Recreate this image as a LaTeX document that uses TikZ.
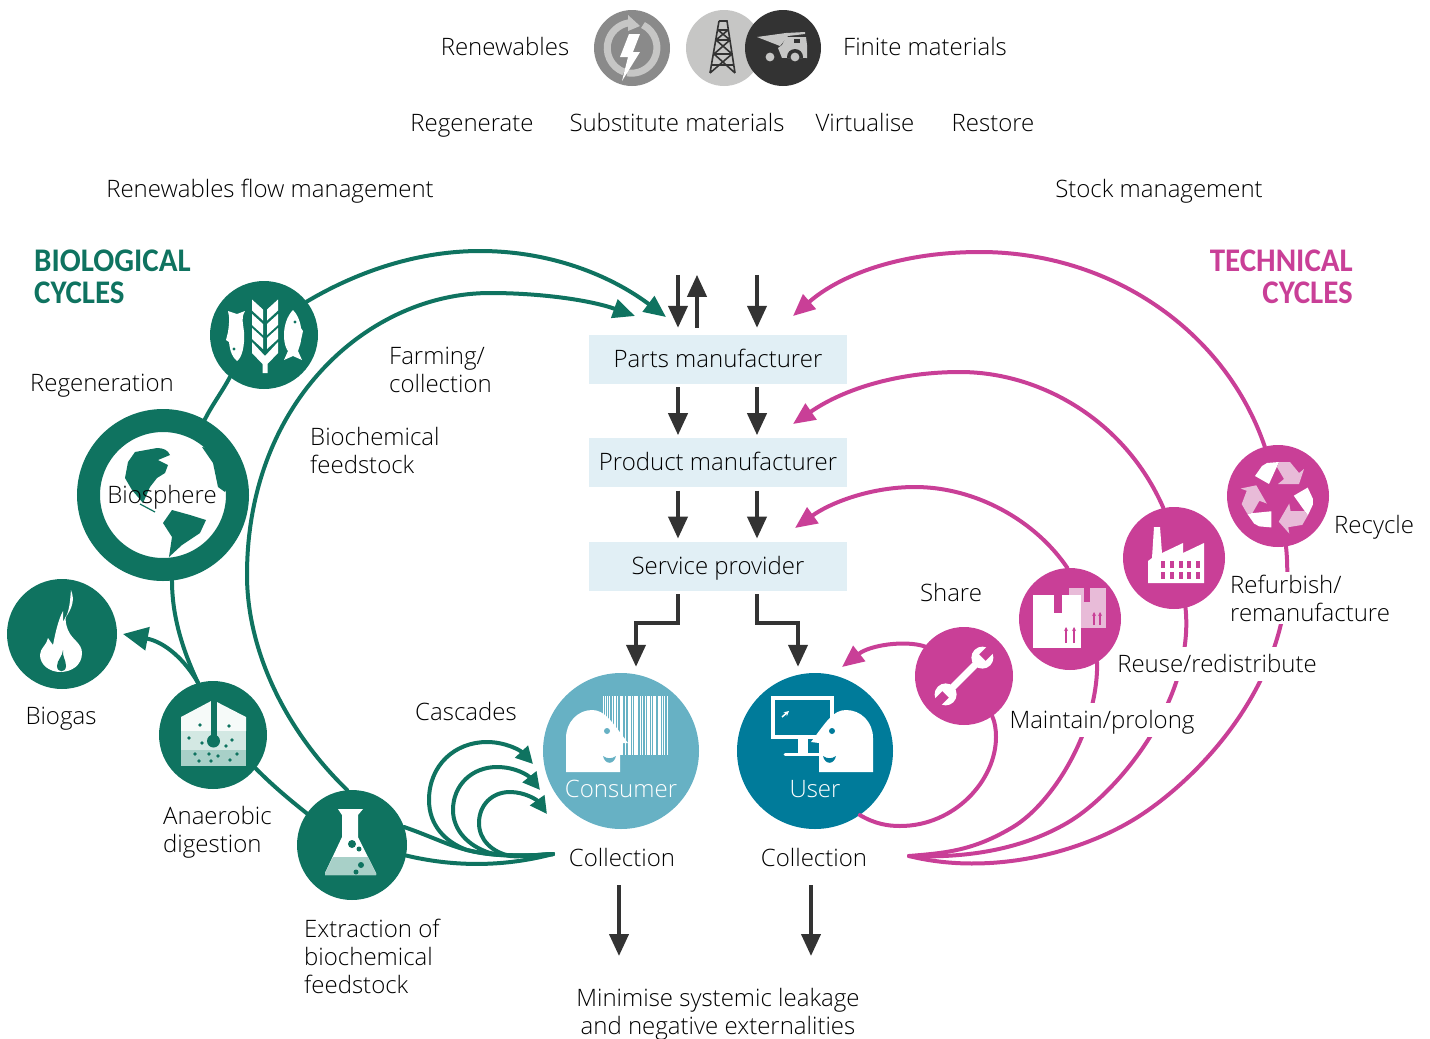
\documentclass[tikz,border=0pt]{standalone}
\usepackage{fontspec}
\setmainfont{Open Sans Light}
\newfontfamily\headfont[FakeStretch=0.94]{Carlito}
\usetikzlibrary{arrows.meta,positioning,calc}
\definecolor{bioteal}{HTML}{0F7360}
\definecolor{techpink}{HTML}{C93F97}
\definecolor{darkline}{HTML}{333333}
\definecolor{boxblue}{HTML}{E1EFF5}
\definecolor{userblue}{HTML}{007B9A}
\definecolor{buyerblue}{HTML}{67B1C4}
\definecolor{palegrey}{HTML}{C6C6C5}
\definecolor{midgrey}{HTML}{8A8A8A}
\definecolor{paleteal}{HTML}{A8D0C8}
\definecolor{palepink}{HTML}{E8BBD8}

\begin{document}
\begin{tikzpicture}[
  x=1pt, y=-1pt,
  txt/.style={font=\fontsize{24}{28}\selectfont, text=black, inner sep=0pt, align=left},
  lab/.style={txt, text height=24pt, text depth=8pt},
  head/.style={font=\headfont\bfseries\fontsize{33}{32}\selectfont, inner sep=0pt},
  stage/.style={lab, fill=boxblue, minimum width=258pt, minimum height=49pt, align=center},
  disc/.style={circle, inner sep=0pt, minimum size=#1},
  bio/.style={disc=#1, fill=bioteal},
  tech/.style={disc=#1, fill=techpink},
  cutlab/.style={lab, fill=white, inner sep=1pt},
  flow/.style={->, draw=darkline, line width=4pt},
  bioline/.style={draw=bioteal, line width=4pt, line cap=round},
  techline/.style={draw=techpink, line width=4pt, line cap=round},
  >={Stealth[length=22pt, width=19pt, inset=0pt]}
]
  \useasboundingbox (0,0) rectangle (1430,1039);

  % Nodes
  \node[disc=76pt, fill=midgrey] (renew) at (632,48) {};
  \node[disc=76pt, fill=palegrey] (oil) at (724,48) {};
  \node[disc=76pt, fill=darkline] (truck) at (783,48) {};

  \node[stage] (parts) at (718,359.5) {Parts manufacturer};
  \node[stage, below=54pt of parts] (product) {Product manufacturer};
  \node[stage, below=54pt of product] (service) {Service provider};

  \node[bio=108pt] (food) at (264,335) {};
  \node[disc=149pt, draw=bioteal, line width=23pt, fill=white] (globe) at (163,495) {};
  \node[bio=110pt] (biogas) at (62,634) {};
  \node[bio=108pt] (digest) at (213,735) {};
  \node[bio=110pt] (flask) at (352,845) {};
  \node[disc=156pt, fill=buyerblue] (consumer) at (621,751) {};
  \node[disc=156pt, fill=userblue] (user) at (815,751) {};

  \node[tech=102pt] (recycle) at (1278,496) {};
  \node[tech=102pt] (factory) at (1174,558) {};
  \node[tech=102pt] (parcel) at (1070,619) {};
  \node[tech=98pt] (wrench) at (964,676) {};

  % Free ends of the connectors
  \coordinate (bioOuterEnd) at (666,317);
  \coordinate (bioInnerEnd) at (635,316);
  \coordinate (gasEnd) at (123,634);
  \coordinate (bioCollect) at (553,854);
  \coordinate (techCollect) at (909,856);
  \coordinate (recycleEnd) at (793,316);
  \coordinate (factoryEnd) at (793,424);
  \coordinate (parcelEnd) at (795,528);
  \coordinate (wrenchEnd) at (842,667);
  \coordinate (leakA) at (619,885);
  \coordinate (leakB) at (811,885);
  \coordinate (leakAEnd) at (619,956);
  \coordinate (leakBEnd) at (811,956);
  \coordinate (casA) at (533,764);
  \coordinate (casB) at (540,790);
  \coordinate (casC) at (547,814);

  % Arrows, centre column
  \draw[flow] ($(parts.north)+(-40,-60)$) -- ($(parts.north)+(-40,-7)$);
  \draw[flow] ($(parts.north)+(-21,-7)$) -- ($(parts.north)+(-21,-60)$);
  \draw[flow] ($(parts.north)+(39,-60)$) -- ($(parts.north)+(39,-7)$);
  \draw[flow] ($(parts.south)+(-40,3)$) -- ($(product.north)+(-40,-3)$);
  \draw[flow] ($(parts.south)+(39,3)$) -- ($(product.north)+(39,-3)$);
  \draw[flow] ($(product.south)+(-40,3)$) -- ($(service.north)+(-40,-3)$);
  \draw[flow] ($(product.south)+(39,3)$) -- ($(service.north)+(39,-3)$);
  \draw[flow] ($(service.south)+(-40,3)$) |- ($(consumer.north)+(15,-50)$) -- ($(consumer.north)+(15,-6)$);
  \draw[flow] ($(service.south)+(39,3)$) |- ($(user.north)+(-17,-50)$) -- ($(user.north)+(-17,-6)$);
  \draw[flow] (leakA) -- (leakAEnd);
  \draw[flow] (leakB) -- (leakBEnd);

  % Biological side
  \draw[bioline] (food.231) .. controls (222,392) and (212,405) .. (globe.61);
  \draw[bioline] (globe.276) .. controls (172,620) and (185,655) .. (digest.106);
  \draw[bioline, >={Stealth[length=25pt, width=23pt, inset=0pt]}, ->] (digest.106) .. controls (185,660) and (165,642) .. (gasEnd);
  \draw[bioline] (digest.-38) .. controls (272,785) and (290,800) .. (flask.145);
  \draw[bioline, ->] (food.38) .. controls (360,270) and (420,251) .. (480,251)
    .. controls (550,251) and (610,275) .. (bioOuterEnd);
  \draw[bioline, ->] (flask.95) .. controls (285,730) and (247,650) .. (247,575)
    .. controls (247,400) and (370,293) .. (490,293)
    .. controls (540,293) and (590,300) .. (bioInnerEnd);
  \draw[bioline] (flask.19) .. controls (430,836) and (450,846) .. (467,850)
    .. controls (495,857) and (525,856) .. (bioCollect);
  \draw[bioline] (flask.-11) .. controls (450,866) and (500,868) .. (bioCollect);
  \begin{scope}[>={Stealth[length=17pt, width=17pt, inset=0pt]}]
    \draw[bioline, ->] (bioCollect) .. controls (520,857) and (490,856) .. (467,850)
      .. controls (445,842) and (429,825) .. (429,800)
      .. controls (429,765) and (455,742) .. (487,742)
      .. controls (505,742) and (520,750) .. (casA);
    \draw[bioline, ->] (bioCollect) .. controls (530,856) and (505,856) .. (490,853)
      .. controls (468,846) and (453,830) .. (453,810)
      .. controls (453,785) and (472,767) .. (497,767)
      .. controls (515,767) and (528,775) .. (casB);
    \draw[bioline, ->] (bioCollect) .. controls (535,855) and (520,857) .. (510,856)
      .. controls (492,852) and (479,840) .. (479,823)
      .. controls (479,805) and (492,792) .. (510,792)
      .. controls (525,792) and (537,800) .. (casC);
  \end{scope}

  % Technical side
  \draw[techline, ->] (recycle.105) .. controls (1225,330) and (1110,252) .. (980,252)
    .. controls (900,252) and (840,275) .. (recycleEnd);
  \draw[techline, ->] (factory.102) .. controls (1125,420) and (1040,372) .. (960,372)
    .. controls (900,372) and (845,388) .. (factoryEnd);
  \draw[techline, ->] (parcel.93) .. controls (1035,520) and (975,487) .. (915,487)
    .. controls (870,487) and (830,503) .. (parcelEnd);
  \draw[techline, ->] (wrench.143) .. controls (905,640) and (870,645) .. (wrenchEnd);
  \draw[techline] (user.-55) .. controls (875,824) and (888,826) .. (900,826)
    .. controls (955,826) and (996,780) .. (996,737)
    .. controls (996,730) and (995,722) .. (wrench.-55);
  \draw[techline] (parcel.-58) .. controls (1098,730) and (1053,803) .. (1013,827)
    .. controls (973,851) and (945,853) .. (techCollect);
  \draw[techline] (factory.-77) .. controls (1195,700) and (1117,794) .. (1067,823)
    .. controls (1017,852) and (960,858) .. (techCollect);
  \draw[techline] (recycle.-81) .. controls (1300,680) and (1193,784) .. (1133,820)
    .. controls (1073,856) and (985,875) .. (techCollect);

  % Icon: renewables
  \draw[palegrey, line width=7pt] (624,72) arc[start angle=110, end angle=270, radius=25.5] -- ++(-1,0);
  \fill[palegrey] (628,15) -- (640,26) -- (628,31) -- cycle;
  \draw[palegrey, line width=7pt] (643,25) arc[start angle=-63, end angle=100, radius=25.5];
  \fill[white] (629,34) -- (640,34) -- (633,52) -- (640,52) -- (622,81) -- (628,57) -- (620,57) -- cycle;

  % Icon: oil tower
  \draw[darkline, line width=1.6pt] (719,21) -- (727,21) -- (735,73) (719,21) -- (710,73)
    (718,30) -- (728,30) (716,40) -- (730,40) (714,54) -- (732,54) (712,65) -- (734,65)
    (718,30) -- (730,40) (728,30) -- (716,40) (716,40) -- (732,54) (730,40) -- (714,54)
    (714,54) -- (735,73) (732,54) -- (710,73);

  % Icon: truck
  \fill[palegrey] (757,37) -- (786,33) -- (805,32) -- (805,34) -- (788,36) -- (780,46) -- cycle;
  \fill[palegrey] (786,37) -- (806,37) -- (807,45) -- (807,58) -- (782,58) -- (778,48) -- (782,45) -- cycle;
  \fill[darkline] (794,39) rectangle (800,43);
  \fill[darkline] (795,57) circle (8) (775,58) rectangle (806,64);
  \fill[palegrey] (770,57) circle (4.4) (795,57) circle (4.4);

  % Icon: food
  \foreach \yb in {299.5,314,328} {
    \fill[white] (252,\yb) -- (263,\yb+10) -- (263,\yb+21) -- (252,\yb+11) -- cycle;
    \fill[white] (278,\yb) -- (267,\yb+10) -- (267,\yb+21) -- (278,\yb+11) -- cycle;
  }
  \fill[white] (252,342) -- (265,356) -- (278,342) -- (278,353) -- (267.5,364) -- (267.5,373) -- (262.5,373) -- (262.5,364) -- (252,353) -- cycle;
  \fill[white] (237,314) -- (228,311) .. controls (230,318) and (229,325) .. (228,332) -- (226,340) -- (229,342)
    .. controls (230,352) and (233,358) .. (237,361) .. controls (242,358) and (245,345) .. (244,332)
    .. controls (243,322) and (241,318) .. (245,311) -- cycle;
  \fill[bioteal] (234,349) circle (1.6);
  \fill[white] (293,310) .. controls (287,316) and (284,326) .. (284,335) .. controls (284,345) and (287,350) .. (288,351)
    -- (284,360) -- (293,356) -- (302,360) -- (298,351) .. controls (300,345) and (301,342) .. (301,340)
    -- (303,331) -- (301,328) .. controls (300,320) and (297,314) .. (293,310) -- cycle;
  \fill[bioteal] (295,322) circle (1.6);

  % Icon: globe
  \fill[bioteal] (135,452) -- (157,448) .. controls (163,448) and (168,450) .. (170,455) -- (158,460) -- (168,465) -- (165,473) -- (157,478) -- (150,487) -- (143,503) -- (132,490) -- (125,478) -- (128,462) -- cycle;
  \fill[bioteal] (163,523) -- (172,510) -- (190,515) -- (206,520) -- (200,533) -- (182,545) -- (169,557) -- (172,537) -- cycle;
  \fill[bioteal] (202,447) -- (213,463) -- (218,487) -- (225,492) -- (232,480) -- (220,450) -- cycle;
  \draw[bioteal, line width=1.2pt] (140,504) -- (155,512);

  % Icon: flame
  \fill[white] (71,590) .. controls (75,600) and (72,608) .. (66,617) .. controls (70,608) and (70,600) .. (71,590) -- cycle;
  \fill[white] (63,611) .. controls (58,620) and (55,635) .. (53,645) .. controls (51,642) and (49,640) .. (48,638)
    .. controls (47,645) and (40,648) .. (40,655) .. controls (40,665) and (50,672) .. (60,672)
    .. controls (72,672) and (82,665) .. (82,653) .. controls (82,643) and (72,640) .. (68,630)
    .. controls (66,625) and (65,620) .. (66,616) -- (63,622) -- cycle;
  \fill[bioteal] (63,650) .. controls (63,656) and (57,660) .. (57,666) .. controls (57,673) and (66,673) .. (66,666) .. controls (66,660) and (62,656) .. (63,650) -- cycle;

  % Icon: digester
  \fill[white!90!paleteal] (181,717) -- (213,700) -- (246,717) -- (246,731) -- (181,731) -- cycle;
  \fill[paleteal!50] (181,731) rectangle (246,750);
  \fill[paleteal] (181,750) rectangle (246,766);
  \draw[bioteal, line width=6pt] (213.5,699) -- (213.5,740);
  \fill[bioteal] (213.5,741) circle (6.5);
  \foreach \xd/\yd in {200/725,229/726,189/738,232/740,202/743,226/746,195/754,209/754,218/756,237/754,199/761,211/761,230/760} {
    \fill[bioteal] (\xd,\yd) circle (1.8);
  }

  % Icon: flask
  \fill[white] (338,809) -- (363,809) -- (358,815) -- (358,837) -- (376,873) -- (376,875) -- (325,875) -- (325,873) -- (342,837) -- (342,815) -- cycle;
  \fill[paleteal] (333,857) -- (368,857) -- (376,873) -- (376,875) -- (325,875) -- (325,873) -- cycle;
  \fill[bioteal] (352,844) circle (4) (359,849) circle (2.5) (361,865) circle (3) (356,872) circle (2.5);

  % Icon: consumer
  \foreach \xb/\wb in {603/1,605/1,607/1,609/1,612/1,614/1.5,617/1,620/3,625/1,628/3,632/1,634/4,640/1,642/1,645/1,647/3,651/1,653/3,658/3,662/1,664/1,667/1} {
    \fill[white] (\xb,696) rectangle ++(\wb,59);
  }
  \fill[white] (566,772) -- (566,738) .. controls (566,722) and (578,710) .. (592,710)
    .. controls (605,710) and (612,722) .. (628,743) -- (620,743) -- (620,772) -- cycle;
  \fill[buyerblue] (607,731) circle (3);
  \fill[buyerblue] (603,756) .. controls (605,765) and (614,765) .. (616,756) .. controls (612,759) and (607,759) .. (603,756) -- cycle;

  % Icon: user
  \draw[white, line width=4pt] (773,698) rectangle (832,737);
  \fill[white] (798,739) rectangle (808,753);
  \draw[white, line width=3pt, line cap=round] (785,754) -- (820,754);
  \draw[white, line width=1.5pt, -{Stealth[length=5pt, width=5pt]}] (782,717) -- (789,711);
  \fill[white] (873,772) -- (873,738) .. controls (873,722) and (861,710) .. (846,710)
    .. controls (833,710) and (826,722) .. (811,742) -- (819,743) -- (819,772) -- cycle;
  \fill[userblue] (832,731) circle (3);
  \fill[userblue] (823,756) .. controls (825,765) and (834,765) .. (836,756) .. controls (832,759) and (827,759) .. (823,756) -- cycle;

  % Icon: recycle
  \foreach \ang in {0,120,240} {
    \begin{scope}[shift={(1278,497)}, rotate=\ang]
      \fill[white] (-23,-21) -- (-16,-31) -- (-11,-34) -- (1,-35) -- (-9,-13) -- cycle;
      \fill[palepink] (1,-35) -- (12,-35) -- (21,-24) -- (26,-28) -- (21,-13) -- (0,-13) -- (6,-18) -- (-1,-30) -- cycle;
    \end{scope}
  }

  % Icon: factory
  \fill[white] (1148,583) -- (1148,561) -- (1152,558) -- (1154,527) -- (1160,527) -- (1162,553) -- (1183,543) -- (1183,553) -- (1204,543) -- (1204,583) -- cycle;
  \foreach \xw in {1161,1170,1179,1187,1196} {
    \fill[techpink] (\xw,561) rectangle ++(4,7);
    \fill[techpink] (\xw,572) rectangle ++(4,7);
  }

  % Icon: parcels
  \fill[palepink] (1069,588) rectangle (1106,628);
  \fill[techpink] (1084,588) rectangle (1090,602);
  \draw[techpink, line width=1.5pt, -{Stealth[length=4pt, width=4pt]}] (1094,625) -- (1094,612);
  \draw[techpink, line width=1.5pt, -{Stealth[length=4pt, width=4pt]}] (1100,625) -- (1100,612);
  \fill[white] (1033,595) rectangle (1081,648);
  \fill[techpink] (1054,595) rectangle (1062,613);
  \draw[techpink, line width=1.5pt, -{Stealth[length=4pt, width=4pt]}] (1066,643) -- (1066,627);
  \draw[techpink, line width=1.5pt, -{Stealth[length=4pt, width=4pt]}] (1074,643) -- (1074,627);

  % Icon: wrench
  \begin{scope}[shift={(964,676)}, rotate=45]
    \fill[white] (-20,-3.5) rectangle (20,3.5);
    \fill[white] (26,0) circle (11) (-26,0) circle (11);
    \fill[techpink] (26,-4.5) rectangle (40,4.5) (-26,-4.5) rectangle (-40,4.5);
  \end{scope}

  % Labels
  \node[lab] (tRenew) at (505,47) {Renewables};
  \node[lab, anchor=west] (tFinite) at (843,47) {Finite materials};
  \node[lab] (tRegen) at (472,123) {Regenerate};
  \node[lab] (tSubst) at (677,123) {Substitute materials};
  \node[lab] (tVirt) at (865,123) {Virtualise};
  \node[lab] (tRest) at (993,123) {Restore};
  \node[lab] (tFlow) at (270,189) {Renewables flow management};
  \node[lab] (tStock) at (1159,189) {Stock management};
  \node[head, text=bioteal, anchor=north west, align=left] (tBio) at (34,250) {BIOLOGICAL\\CYCLES};
  \node[head, text=techpink, anchor=north east, align=right] (tTech) at (1353,250) {TECHNICAL\\CYCLES};
  \node[lab] (tRegeneration) at (102,383) {Regeneration};
  \node[txt, anchor=west] (tFarm) at (389,370) {Farming/\\collection};
  \node[txt, anchor=west] (tFeed) at (310,450) {Biochemical\\feedstock};
  \node[lab] (tBiosphere) at (162,495) {Biosphere};
  \node[lab] (tBiogas) at (61,716) {Biogas};
  \node[txt, anchor=west] (tAnaer) at (163,832) {Anaerobic\\digestion};
  \node[lab] (tCasc) at (466,712) {Cascades};
  \node[txt, anchor=west] (tExtr) at (304,956) {Extraction of\\biochemical\\feedstock};
  \node[lab, text=white] (tConsumer) at (621,789) {Consumer};
  \node[lab, text=white] (tUser) at (815,789) {User};
  \node[lab] (tCollA) at (622,858) {Collection};
  \node[lab] (tCollB) at (814,858) {Collection};
  \node[txt, align=center] (tLeak) at (718,1014) {Minimise systemic leakage\\and negative externalities};
  \node[lab] (tShare) at (951,593) {Share};
  \node[lab, anchor=west] (tRecycle) at (1334,525) {Recycle};
  \node[txt, fill=white, inner sep=3pt, anchor=west] (tRefurb) at (1227,598) {Refurbish/\\remanufacture};
  \node[cutlab] (tReuse) at (1217,664) {Reuse/redistribute};
  \node[cutlab] (tMaintain) at (1102,720) {Maintain/prolong};
\end{tikzpicture}
\end{document}
